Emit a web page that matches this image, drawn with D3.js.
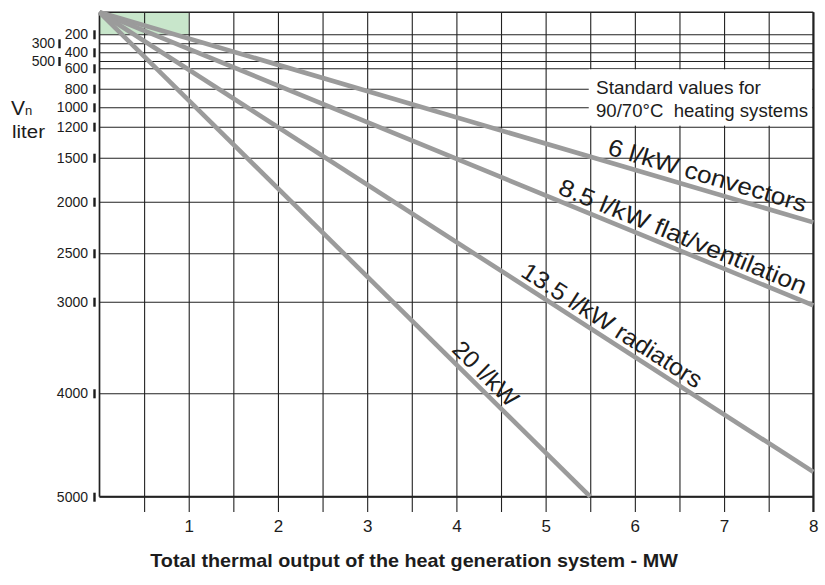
<!DOCTYPE html>
<html><head><meta charset="utf-8">
<script src="https://cdn.jsdelivr.net/npm/d3@7"></script>
<style>
body{margin:0;background:#fff;}
svg{display:block;font-family:"Liberation Sans",Arial,Helvetica,sans-serif;}
</style></head><body>
<svg id="c" width="825" height="585"></svg>
<script>
// ---------------- data ----------------
const seriesNames  = ["6 l/kW convectors", "8.5 l/kW flat/ventilation", "13.5 l/kW radiators", "20 l/kW"];
const seriesStartMW = [0, 0, 0, 0];
const seriesStartL  = [0, 0, 0, 0];
const seriesEndMW   = [8, 8, 8, 5.5];
const seriesEndL    = [2200, 3040, 4760, 5000];

const yTickValues = [200, 300, 400, 500, 600, 800, 1000, 1200, 1500, 2000, 2500, 3000, 4000, 5000];
const yTickLabels = ["200", "300", "400", "500", "600", "800", "1000", "1200", "1500", "2000", "2500", "3000", "4000", "5000"];
const yStaggered  = [300, 500];
const xTickValues = [1, 2, 3, 4, 5, 6, 7, 8];
const xTickLabels = ["1", "2", "3", "4", "5", "6", "7", "8"];
const xGridValues = [0.5, 1, 1.5, 2, 2.5, 3, 3.5, 4, 4.5, 5, 5.5, 6, 6.5, 7, 7.5, 8];

const highlightMW = [0, 1];
const highlightL  = [0, 200];
const noteLines   = ["Standard values for", "90/70°C  heating systems"];
const noteBoxMW   = [5.5, 8];
const noteBoxL    = [600, 1200];

const yAxisTitle = "V";
const yAxisSub   = "n";
const yAxisUnit  = "liter";
const xAxisTitle = "Total thermal output of the heat generation system - MW";

// ---------------- layout ----------------
const L = 99.5, R = 813.3, T = 12.3, B = 496.7, TICK_END = 512;
// grid line pixel rows of the (non-uniform) printed value axis
const yDomain = [0].concat(yTickValues);
const yRangePx = [12.3, 34.3, 43.3, 52.3, 61, 68.3, 88.7, 107.3, 126.7, 157.7, 201.7, 253.3, 301.7, 393.3, 496.7];
const labelLayout = [
  {at: 5.66, off: 7, len: 206},
  {at: 5.10, off: 6, len: 266},
  {at: 4.67, off: 6, len: 210},
  {at: 3.89, off: 6, len: 82}
];
const INK = "#1c1c1c", GRID = "#222", LINE = "#9b9b9b";
const FONT = "Liberation Sans, Arial, sans-serif";

const svg = d3.select("#c");
const x = d3.scaleLinear().domain([0, 8]).range([L, R]);
const y = d3.scaleLinear().domain(yDomain).range(yRangePx);

// highlight
svg.append("rect")
  .attr("x", x(highlightMW[0])).attr("y", y(highlightL[0]))
  .attr("width", x(highlightMW[1]) - x(highlightMW[0]))
  .attr("height", y(highlightL[1]) - y(highlightL[0]))
  .attr("fill", "#c8e6cb");

// vertical grid via axisBottom
const xa = svg.append("g").attr("transform", `translate(0,${TICK_END})`)
  .call(d3.axisBottom(x).tickValues(xGridValues).tickSize(-(TICK_END - T)).tickPadding(8)
    .tickFormat(d => { const i = xTickValues.indexOf(d); return i >= 0 ? xTickLabels[i] : ""; }));
xa.attr("font-size", null).attr("font-family", null);
xa.select(".domain").remove();
xa.selectAll("line").attr("stroke", GRID).attr("stroke-width", 1.1);
xa.selectAll("text").attr("fill", INK).style("font-size", "17px").style("font-family", FONT);

// horizontal grid via axisLeft
const ya = svg.append("g").attr("transform", `translate(${L},0)`)
  .call(d3.axisLeft(y).tickValues(yTickValues).tickSize(-(R - L)).tickPadding(11.5)
    .tickFormat(d => yTickLabels[yTickValues.indexOf(d)]));
ya.attr("font-size", null).attr("font-family", null);
ya.select(".domain").remove();
ya.selectAll("line").attr("stroke", GRID).attr("stroke-width", 1.1);
ya.selectAll("text").attr("fill", INK).style("font-size", "14px").style("font-family", FONT)
  .attr("x", d => yStaggered.includes(d) ? -(L - 55) : -(L - 88));
ya.selectAll(".tick").append("rect")
  .attr("x", d => yStaggered.includes(d) ? -(L - 58.3) : -(L - 93.3))
  .attr("y", -4.5).attr("width", 2.4).attr("height", 9).attr("fill", INK);

// note box
svg.append("rect")
  .attr("x", x(noteBoxMW[0]) - 1.5).attr("y", y(noteBoxL[0]) + 1)
  .attr("width", x(noteBoxMW[1]) - x(noteBoxMW[0]) + 0.5)
  .attr("height", y(noteBoxL[1]) - y(noteBoxL[0]) - 2)
  .attr("fill", "#fff");
const noteW = [165, 212];
noteLines.forEach((t, i) => {
  const tx = svg.append("text").text(t).style("font-size", "17.5px").attr("fill", INK)
    .style("white-space", "pre");
  const w = tx.node().getComputedTextLength();
  tx.attr("transform", `translate(596,${94 + i * 23}) scale(${noteW[i] / w},1)`);
});

// borders
const bd = svg.append("g").attr("stroke", GRID).attr("fill", "none");
bd.append("line").attr("x1", L).attr("x2", L).attr("y1", T).attr("y2", B).attr("stroke-width", 1.7);
bd.append("line").attr("x1", L).attr("x2", R).attr("y1", T).attr("y2", T).attr("stroke-width", 1.4);
bd.append("line").attr("x1", L).attr("x2", R).attr("y1", B).attr("y2", B).attr("stroke-width", 1.7);
bd.append("line").attr("x1", R).attr("x2", R).attr("y1", T).attr("y2", TICK_END).attr("stroke-width", 2);

// series lines
const lineGen = d3.line().x(d => x(d[0])).y(d => y(d[1]));
seriesNames.forEach((n, i) => {
  const pts = [[seriesStartMW[i], seriesStartL[i]], [seriesEndMW[i], seriesEndL[i]]];
  svg.append("path").attr("d", lineGen(pts)).attr("fill", "none")
    .attr("stroke", LINE).attr("stroke-width", 4.6);
});

// series labels along lines
seriesNames.forEach((n, i) => {
  const x0 = x(seriesStartMW[i]), y0 = y(seriesStartL[i]);
  const x1 = x(seriesEndMW[i]), y1 = y(seriesEndL[i]);
  const ang = Math.atan2(y1 - y0, x1 - x0) * 180 / Math.PI;
  const lay = labelLayout[i];
  const px = x(lay.at), py = y0 + (px - x0) * (y1 - y0) / (x1 - x0);
  const g = svg.append("g").attr("transform", `translate(${px},${py}) rotate(${ang})`);
  const t = g.append("text").text(n).style("font-size", "24px").attr("fill", INK);
  const w = t.node().getComputedTextLength();
  t.attr("transform", `translate(0,${-lay.off}) scale(${lay.len / w},1)`);
});

// axis titles
svg.append("text").attr("x", 11).attr("y", 115).style("font-size", "21px").attr("fill", INK)
  .text(yAxisTitle).append("tspan").style("font-size", "13px").text(yAxisSub);
const lt = svg.append("text").text(yAxisUnit).style("font-size", "19px").attr("fill", INK);
lt.attr("transform", `translate(12,138) scale(${33 / lt.node().getComputedTextLength()},1)`);

const tt = svg.append("text").text(xAxisTitle).style("font-size", "18px").attr("font-weight", "bold")
  .attr("fill", INK).attr("text-anchor", "middle");
tt.attr("transform", `translate(414,567) scale(${528 / tt.node().getComputedTextLength()},1)`);
</script>
</body></html>
